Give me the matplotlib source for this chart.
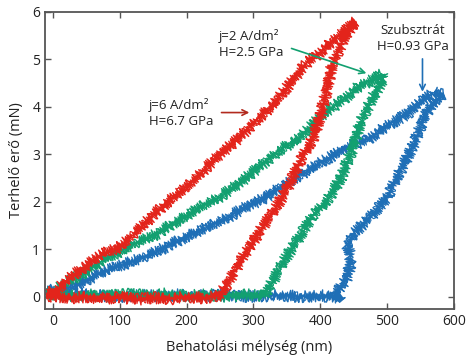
import numpy as np
import matplotlib
matplotlib.use("Agg")
import matplotlib.pyplot as plt

plt.rcParams['font.family'] = ['Open Sans', 'DejaVu Sans']

# j=6 A/dm2 (piros)
red_load_x = [-8, 10, 25, 50, 75, 100, 120, 140, 160, 180, 200, 225, 250, 275, 303, 330, 355, 378, 400, 420, 443, 453]
red_load_y = [0.05, 0.2, 0.4, 0.65, 0.9, 1.05, 1.3, 1.58, 1.85, 2.1, 2.3, 2.65, 3.0, 3.3, 3.7, 4.05, 4.5, 4.9, 5.15, 5.4, 5.67, 5.8]
red_unload_x = [445, 435, 428, 418, 408, 400, 388, 368, 353, 333, 315, 298, 285, 273, 262, 253, 245]
red_unload_y = [5.65, 5.45, 5.2, 4.9, 4.25, 3.8, 3.3, 2.8, 2.35, 1.85, 1.5, 1.13, 0.85, 0.56, 0.3, 0.1, 0.0]
red_base_x = [245, 225, 200, 175, 150, 125, 100, 75, 50, 25, 0, -10]
red_base_y = [0.02, -0.03, 0.0, -0.05, -0.02, -0.06, -0.01, -0.04, 0.0, -0.03, 0.02, 0.0]

# j=2 A/dm2 (zöld)
green_load_x = [-10, 5, 20, 40, 60, 80, 100, 120, 140, 160, 180, 200, 220, 250, 280, 310, 340, 370, 400, 430, 455, 475, 492]
green_load_y = [0.05, 0.15, 0.3, 0.45, 0.62, 0.8, 0.95, 1.1, 1.22, 1.35, 1.55, 1.7, 1.88, 2.1, 2.4, 2.75, 3.1, 3.35, 3.8, 4.1, 4.4, 4.55, 4.68]
green_unload_x = [495, 478, 461, 446, 431, 411, 400, 388, 375, 363, 350, 338, 328, 320, 315]
green_unload_y = [4.6, 4.19, 3.7, 3.03, 2.5, 2.04, 1.85, 1.7, 1.4, 1.13, 0.85, 0.56, 0.3, 0.12, 0.0]
green_base_x = [315, 290, 260, 230, 200, 170, 140, 110, 80, 50, 20, 0, -10]
green_base_y = [0.02, 0.04, 0.0, 0.05, 0.02, 0.06, 0.03, 0.05, 0.01, 0.04, 0.02, 0.05, 0.03]

# Szubsztrát (kék)
blue_load_x = [-10, 10, 30, 50, 70, 90, 110, 140, 170, 200, 230, 260, 290, 320, 350, 380, 410, 440, 470, 500, 530, 555, 570]
blue_load_y = [0.12, 0.15, 0.22, 0.35, 0.48, 0.6, 0.7, 0.85, 1.05, 1.27, 1.45, 1.65, 1.9, 2.1, 2.4, 2.65, 2.9, 3.15, 3.3, 3.6, 3.85, 4.15, 4.3]
blue_unload_x = [585, 570, 556, 541, 521, 501, 476, 451, 441, 446, 441, 431, 421, 431]
blue_unload_y = [4.25, 4.1, 3.81, 3.24, 2.68, 2.11, 1.69, 1.34, 1.06, 0.78, 0.42, 0.2, 0.05, -0.05]
blue_base_x = [431, 400, 370, 340, 310, 280, 250, 220, 190, 160, 130, 100, 70, 40, 10, -10]
blue_base_y = [-0.02, 0.02, 0.0, 0.03, 0.01, 0.0, 0.03, 0.02, 0.04, 0.01, 0.03, 0.0, 0.02, 0.05, 0.08, 0.1]

series = [
    ('#1f6fb6', blue_load_x + blue_unload_x + blue_base_x, blue_load_y + blue_unload_y + blue_base_y),
    ('#12a070', green_load_x + green_unload_x + green_base_x, green_load_y + green_unload_y + green_base_y),
    ('#e3241b', red_load_x + red_unload_x + red_base_x, red_load_y + red_unload_y + red_base_y),
]

fig = plt.figure(figsize=(4.66, 3.58), dpi=100)
ax = fig.add_axes([0.0966, 0.137, 0.8774, 0.8295])

# zajos sáv: több réteg vázlatos vonal
passes = [(1.0, (6.0, 1.2, 3.0)), (0.8, (4.5, 0.8, 4.0)), (0.8, (3.0, 2.0, 2.0)), (1.2, (1.5, 3.0, 2.0))]
for color, xs, ys in series:
    for lw, sk in passes:
        line, = ax.plot(xs, ys, color=color, lw=lw)
        line.set_sketch_params(*sk)

ax.set_xlim(-12, 600)
ax.set_ylim(-0.26, 6)
ax.set_xticks([0, 100, 200, 300, 400, 500, 600])
ax.set_yticks([0, 1, 2, 3, 4, 5, 6])
ax.tick_params(direction='in', top=True, right=True, length=4, width=1,
               color='#555555', labelsize=10, labelcolor='#222222')
for s in ax.spines.values():
    s.set_color('#555555')
    s.set_linewidth(1.3)

ax.set_xlabel('Behatolási mélység (nm)', fontsize=10.5, color='#222222', labelpad=8)
ax.set_ylabel('Terhelő erő (mN)', fontsize=10.5, color='#222222', labelpad=6)

# feliratok
ax.text(248, 5.32, 'j=2 A/dm²\nH=2.5 GPa', ha='left', va='center', fontsize=9.5,
        color='#222222', linespacing=1.3)
ax.annotate('', xy=(473, 4.69), xytext=(353, 5.25),
            arrowprops=dict(arrowstyle='->', color='#12a070', lw=1.2))

ax.text(143, 3.87, 'j=6 A/dm²\nH=6.7 GPa', ha='left', va='center', fontsize=9.5,
        color='#222222', linespacing=1.3)
ax.annotate('', xy=(298, 3.88), xytext=(248, 3.88),
            arrowprops=dict(arrowstyle='->', color='#b22a1e', lw=1.2))

ax.text(539, 5.45, 'Szubsztrát\nH=0.93 GPa', ha='center', va='center', fontsize=9.5,
        color='#222222', linespacing=1.3)
ax.annotate('', xy=(553, 4.26), xytext=(553, 5.07),
            arrowprops=dict(arrowstyle='->', color='#1f6fb6', lw=1.2))

fig.savefig('out.png', dpi=100)
